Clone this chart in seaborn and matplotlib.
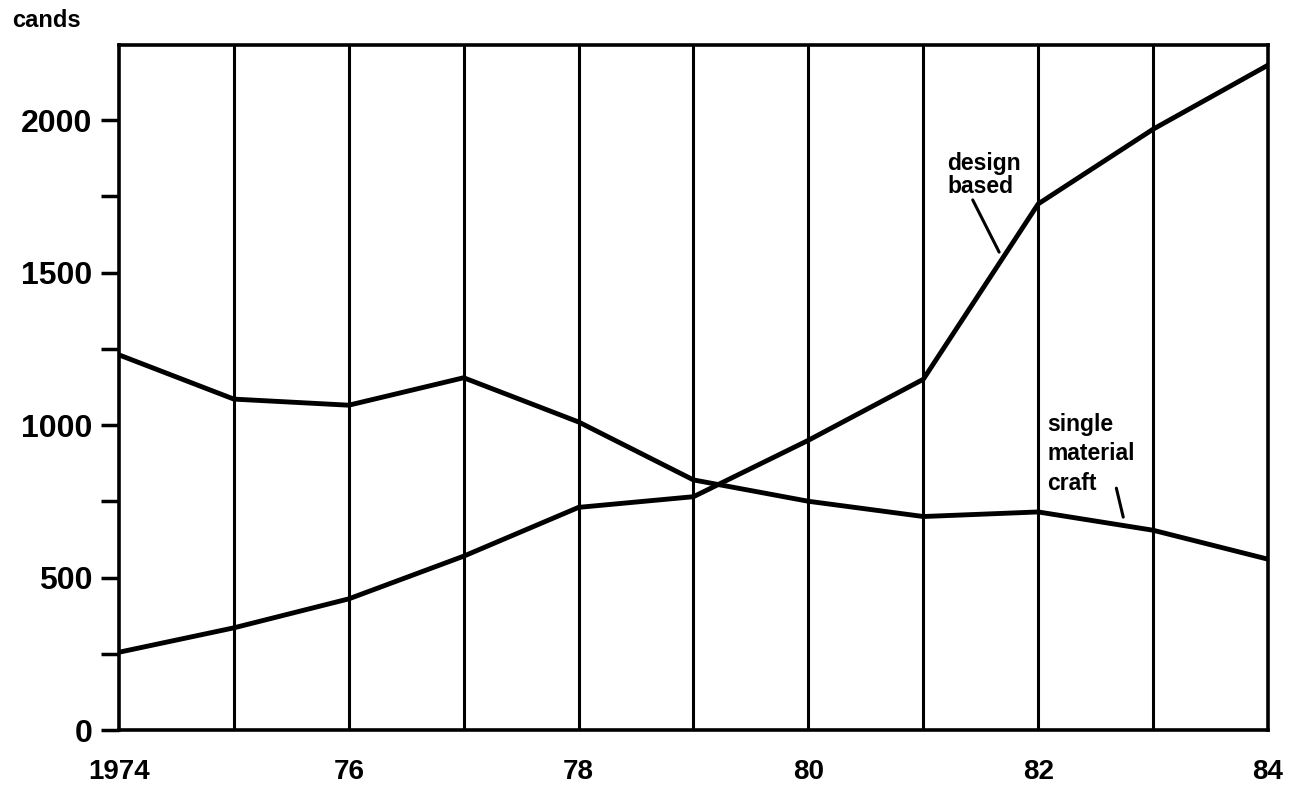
import matplotlib
matplotlib.use('Agg')
import matplotlib.pyplot as plt
import pandas as pd
import seaborn as sns

# values (candidates per year)
years = [1974, 1975, 1976, 1977, 1978, 1979, 1980, 1981, 1982, 1983, 1984]
design_based = [255, 335, 430, 570, 730, 765, 950, 1150, 1725, 1970, 2180]
single_craft = [1230, 1085, 1065, 1155, 1010, 820, 750, 700, 715, 655, 560]
x_ticks = [1974, 1976, 1978, 1980, 1982, 1984]
x_labels = ['1974', '76', '78', '80', '82', '84']
y_ticks = [0, 500, 1000, 1500, 2000]

df = pd.DataFrame({'year': years + years,
                   'cands': design_based + single_craft,
                   'course': ['design based'] * len(years) + ['single material craft'] * len(years)})

sns.set_style('white')
plt.rcParams['font.family'] = ['Liberation Sans', 'DejaVu Sans']
plt.rcParams['font.weight'] = 'bold'
plt.rcParams['text.color'] = 'black'
plt.rcParams['xtick.color'] = 'black'
plt.rcParams['ytick.color'] = 'black'

fig = plt.figure(figsize=(13, 7.91), dpi=100)
ax = fig.add_axes([0.0915, 0.0771, 0.8839, 0.866])

# vertical year lines
for yr in years[1:-1]:
    ax.axvline(yr, color='black', lw=2.2, zorder=1)

sns.lineplot(data=df, x='year', y='cands', hue='course', palette=['black', 'black'],
             linewidth=3.5, legend=False, ax=ax, zorder=3)

ax.set_xlim(1974, 1984)
ax.set_ylim(0, 2246)
ax.set_xticks(x_ticks)
ax.set_xticklabels(x_labels, fontsize=20, fontweight='bold', color='black')
ax.set_yticks(y_ticks)
ax.set_yticklabels([str(v) for v in y_ticks], fontsize=23, fontweight='bold', color='black')
ax.set_yticks([250, 750, 1250, 1750], minor=True)
ax.tick_params(axis='y', which='both', direction='out', length=13, width=2.5, color='black', pad=6, left=True)
ax.tick_params(axis='x', length=0, pad=21)
ax.set_xlabel('')
ax.set_ylabel('')
for s in ax.spines.values():
    s.set_color('black')
    s.set_linewidth(2.6)

fig.text(12 / 1300, 1 - 27 / 791, 'cands', fontsize=17, fontweight='bold', va='baseline', ha='left', color='black')

# labels with leader strokes
ax.text(1981.21, 1895, 'design\nbased', fontsize=16.5, fontweight='bold', va='top', ha='left', linespacing=1.0, color='black')
ax.plot([1981.43, 1981.66], [1738, 1567], color='black', lw=2.2)
ax.text(1982.08, 1039, 'single\nmaterial\ncraft', fontsize=16.5, fontweight='bold', va='top', ha='left', linespacing=1.35, color='black')
ax.plot([1982.68, 1982.74], [793, 698], color='black', lw=2.2)

fig.savefig('out.png', dpi=100)
